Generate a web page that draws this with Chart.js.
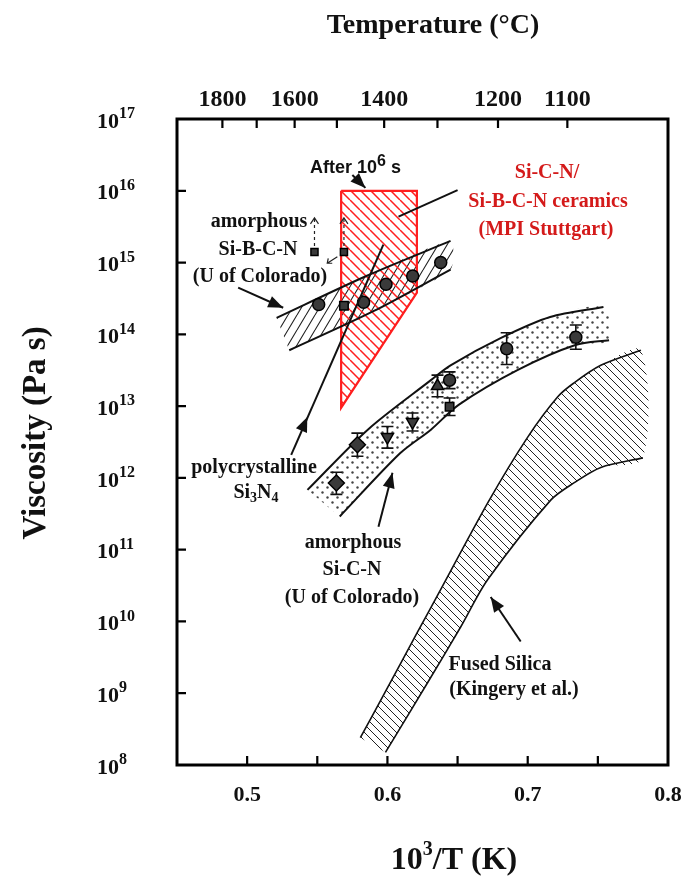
<!DOCTYPE html>
<html>
<head>
<meta charset="utf-8">
<script src="https://cdn.jsdelivr.net/npm/chart.js@4.4.0/dist/chart.umd.min.js"></script>
<style>
  html, body { margin:0; padding:0; background:#fff; }
</style>
</head>
<body>
<canvas id="c" width="685" height="880"></canvas>
<script>
// ---- values: x = 1000/T (1/K), y = viscosity (Pa s) ----
const xTicks = [0.5, 0.55, 0.6, 0.65, 0.7, 0.75, 0.8];
const xLabels = [0.5, 0.6, 0.7, 0.8];
const tempTicks = [1800, 1700, 1600, 1500, 1400, 1300, 1200, 1100];
const tempLabels = [1800, 1600, 1400, 1200, 1100];
const yExps = [8, 9, 10, 11, 12, 13, 14, 15, 16, 17];

// Si-C-N / Si-B-C-N ceramics (MPI Stuttgart) region, closed
const mpiX = [0.567, 0.621, 0.621, 0.567, 0.567];
const mpiY = [1.0e16, 1.0e16, 3.8e14, 9.5e12, 1.0e16];

// amorphous Si-B-C-N band
const bcnUpX = [0.521, 0.585, 0.645];
const bcnUpY = [1.7e14, 6.5e14, 2.0e15];
const bcnLoX = [0.530, 0.590, 0.645];
const bcnLoY = [6.0e13, 2.1e14, 8.0e14];
const bcnPtX = [0.551, 0.583, 0.599, 0.618, 0.638];
const bcnPtY = [2.6e14, 2.8e14, 5.0e14, 6.5e14, 1.0e15];
const bcnSqX = [0.569];
const bcnSqY = [2.5e14];
// after 1e6 s (lower bounds, arrows up)
const agedX = [0.548, 0.569];
const agedY = [1.4e15, 1.4e15];
const agedTop = [4.2e15, 4.2e15];

// amorphous Si-C-N band
const sicnUpX = [0.543, 0.586, 0.631, 0.645, 0.681, 0.716, 0.754];
const sicnUpY = [6.8e11, 4.7e12, 2.3e13, 3.7e13, 8.9e13, 1.74e14, 2.4e14];
const sicnLoX = [0.566, 0.609, 0.631, 0.651, 0.693, 0.734, 0.758];
const sicnLoY = [2.9e11, 2.2e12, 4.7e12, 1.05e13, 3.2e13, 7.1e13, 8.3e13];

const diaX = [0.5636, 0.5786];
const diaY = [8.5e11, 2.9e12];
const diaLo = [5.9e11, 2.0e12];
const diaHi = [1.2e12, 4.2e12];
const dtriX = [0.600, 0.6179];
const dtriY = [3.7e12, 6.0e12];
const dtriLo = [2.6e12, 4.5e12];
const dtriHi = [5.2e12, 8.0e12];
const triX = [0.6357];
const triY = [1.9e13];
const triLo = [1.35e13];
const triHi = [2.7e13];
const cirX = [0.6443, 0.685, 0.7343];
const cirY = [2.3e13, 6.3e13, 9.1e13];
const cirLo = [1.75e13, 3.8e13, 6.2e13];
const cirHi = [3.0e13, 1.05e14, 1.35e14];
const sqX = [0.6443];
const sqY = [9.8e12];
const sqLo = [7.4e12];
const sqHi = [1.3e13];

// fused silica (Kingery et al.)
const fsUpX = [0.5807, 0.5971, 0.6214, 0.6357, 0.6721, 0.700, 0.7214, 0.7329, 0.7521, 0.7807];
const fsUpY = [2.4e8, 9.3e8, 7.1e9, 2.3e10, 4.7e11, 3.7e12, 1.35e13, 2.1e13, 3.7e13, 6.0e13];
const fsLoX = [0.5986, 0.6286, 0.6521, 0.6714, 0.7164, 0.7329, 0.7521, 0.7821];
const fsLoY = [1.5e8, 1.4e9, 8.3e9, 3.8e10, 4.9e11, 8.5e11, 1.4e12, 1.9e12];

// ---- styling ----
const SERIF = "'Liberation Serif', 'Times New Roman', serif";
const SANS = "'Liberation Sans', Arial, sans-serif";
const RED = '#ff1e1e';
const RED_TEXT = '#d41a1a';

function hatch(color, w, h, lw, dir){
  const c = document.createElement('canvas'); c.width = w; c.height = h;
  const g = c.getContext('2d');
  g.strokeStyle = color; g.lineWidth = lw; g.beginPath();
  for(let k=-1;k<=1;k++){
    if(dir === '\\'){ g.moveTo(k*w, 0); g.lineTo(k*w + w, h); }
    else { g.moveTo(k*w, h); g.lineTo(k*w + w, 0); }
  }
  g.stroke();
  return g.createPattern(c, 'repeat');
}
function dots(color, s){
  const c = document.createElement('canvas'); c.width = s; c.height = s;
  const g = c.getContext('2d'); g.fillStyle = color;
  [[s*0.25, s*0.25], [s*0.75, s*0.75]].forEach(([x,y]) => { g.beginPath(); g.arc(x, y, 1.2, 0, Math.PI*2); g.fill(); });
  return g.createPattern(c, 'repeat');
}

const pts = (xs, ys) => xs.map((x,i) => ({x, y: ys[i]}));
const band = (ux, uy, lx, ly) => pts(ux, uy).concat(pts(lx, ly).reverse());

function boundary(label, xs, ys, width){
  return { label, data: pts(xs, ys), showLine:true, borderColor:'#111', borderWidth: width || 2,
           pointRadius:0, tension:0.3, fill:false, order:10 };
}
function marker(label, xs, ys, style, extra){
  return Object.assign({ label, data: pts(xs, ys), showLine:false, pointStyle: style, pointRadius:6,
           backgroundColor:'#3a3a3a', borderColor:'#000', borderWidth:1.5, order:1 }, extra || {});
}

const errorSets = [
  [diaX, diaLo, diaHi], [dtriX, dtriLo, dtriHi], [triX, triLo, triHi], [cirX, cirLo, cirHi], [sqX, sqLo, sqHi]
];

// annotation arrows, in axis units: [1000/T, log10 viscosity]
const arrowNotes = [
  { from:[0.4936, 14.65], to:[0.5257, 14.37], head:true },
  { from:[0.5314, 12.32], to:[0.5971, 15.25], headAt:[0.5429, 12.85] },
  { from:[0.5936, 11.32], to:[0.6036, 12.07], head:true },
  { from:[0.6950, 9.72], to:[0.6736, 10.34], head:true },
  { from:[0.5750, 16.22], to:[0.5843, 16.04], head:true },
  { from:[0.6079, 15.64], to:[0.6500, 16.01] }
];

const notes = [
  { x:259, y:222, c:'#111', parts:[{t:'amorphous'}] },
  { x:258, y:250, c:'#111', parts:[{t:'Si-B-C-N'}] },
  { x:260, y:277, c:'#111', parts:[{t:'(U of Colorado)'}] },
  { x:254, y:468, c:'#111', parts:[{t:'polycrystalline'}] },
  { x:256, y:493, c:'#111', parts:[{t:'Si'},{t:'3',s:'sub'},{t:'N'},{t:'4',s:'sub'}] },
  { x:353, y:543, c:'#111', parts:[{t:'amorphous'}] },
  { x:352, y:570, c:'#111', parts:[{t:'Si-C-N'}] },
  { x:352, y:598, c:'#111', parts:[{t:'(U of Colorado)'}] },
  { x:500, y:665, c:'#111', parts:[{t:'Fused Silica'}] },
  { x:514, y:690, c:'#111', parts:[{t:'(Kingery et al.)'}] },
  { x:547, y:173, c:RED_TEXT, parts:[{t:'Si-C-N/'}] },
  { x:548, y:202, c:RED_TEXT, parts:[{t:'Si-B-C-N ceramics'}] },
  { x:546, y:230, c:RED_TEXT, parts:[{t:'(MPI Stuttgart)'}] }
];

function drawRich(ctx, parts, x, y, size, color, align, family, weight){
  family = family || SERIF; weight = weight || 'bold';
  ctx.save();
  ctx.fillStyle = color; ctx.textBaseline = 'middle'; ctx.textAlign = 'left';
  const fonts = parts.map(p => `${weight} ${p.s ? Math.round(size*(p.z || 0.68)) : size}px ${family}`);
  let w = 0;
  parts.forEach((p,i) => { ctx.font = fonts[i]; w += ctx.measureText(p.t).width; });
  let cx = align === 'left' ? x : align === 'right' ? x - w : x - w/2;
  parts.forEach((p,i) => {
    ctx.font = fonts[i];
    const dy = p.s === 'sup' ? -size*0.36 : p.s === 'sub' ? size*0.28 : 0;
    ctx.fillText(p.t, cx, y + dy);
    cx += ctx.measureText(p.t).width;
  });
  ctx.restore();
}

function head(ctx, x1, y1, x2, y2, len, half){
  const a = Math.atan2(y2-y1, x2-x1);
  ctx.beginPath();
  ctx.moveTo(x2, y2);
  ctx.lineTo(x2 - len*Math.cos(a) + half*Math.sin(a), y2 - len*Math.sin(a) - half*Math.cos(a));
  ctx.lineTo(x2 - len*Math.cos(a) - half*Math.sin(a), y2 - len*Math.sin(a) + half*Math.cos(a));
  ctx.closePath(); ctx.fill();
}

const decor = {
  id:'decor',
  beforeDatasetDraw(chart, args){
    // error bars drawn right before the Si-C-N markers
    if(chart.data.datasets[args.index].label !== 'Si-C-N diamonds') return;
    const {ctx, scales:{x, y}} = chart;
    ctx.save(); ctx.strokeStyle = '#111'; ctx.lineWidth = 1.6;
    errorSets.forEach(([xs, lo, hi]) => xs.forEach((v,i) => {
      const px = x.getPixelForValue(v), p1 = y.getPixelForValue(lo[i]), p2 = y.getPixelForValue(hi[i]);
      ctx.beginPath();
      ctx.moveTo(px, p1); ctx.lineTo(px, p2);
      ctx.moveTo(px-6, p1); ctx.lineTo(px+6, p1);
      ctx.moveTo(px-6, p2); ctx.lineTo(px+6, p2);
      ctx.stroke();
    }));
    ctx.restore();
  },
  afterDatasetsDraw(chart){
    const {ctx, chartArea:a, scales:{x, x2, y}} = chart;
    const P = (v, e) => [x.getPixelForValue(v), y.getPixelForValue(Math.pow(10, e))];
    ctx.save();
    // dashed "lower bound" arrows after 1e6 s
    ctx.strokeStyle = '#222'; ctx.lineWidth = 1.2;
    agedX.forEach((v,i) => {
      const px = x.getPixelForValue(v), p1 = y.getPixelForValue(agedY[i]) - 6, p2 = y.getPixelForValue(agedTop[i]);
      ctx.setLineDash([3,3]); ctx.beginPath(); ctx.moveTo(px, p1); ctx.lineTo(px, p2); ctx.stroke();
      ctx.setLineDash([]); ctx.beginPath();
      ctx.moveTo(px-4, p2+6); ctx.lineTo(px, p2); ctx.lineTo(px+4, p2+6); ctx.stroke();
    });
    // little pointer between the aged squares
    const [s1x, s1y] = P(0.5643, 15.08), [s2x, s2y] = P(0.5571, 14.99);
    ctx.beginPath(); ctx.moveTo(s1x, s1y); ctx.lineTo(s2x, s2y);
    ctx.moveTo(s2x+5, s2y); ctx.lineTo(s2x, s2y); ctx.lineTo(s2x+1, s2y-5); ctx.stroke();

    // annotation arrows
    ctx.strokeStyle = '#111'; ctx.fillStyle = '#111'; ctx.lineWidth = 2;
    arrowNotes.forEach(n => {
      const [x1, y1] = P(...n.from), [x2, y2] = P(...n.to);
      ctx.beginPath(); ctx.moveTo(x1, y1); ctx.lineTo(x2, y2); ctx.stroke();
      if(n.head) head(ctx, x1, y1, x2, y2, 15, 6);
      if(n.headAt){ const [hx, hy] = P(...n.headAt); head(ctx, x1, y1, hx, hy, 15, 6); }
    });

    // frame and inward ticks
    ctx.strokeStyle = '#000'; ctx.lineWidth = 3;
    ctx.strokeRect(a.left, a.top, a.right - a.left, a.bottom - a.top);
    ctx.lineWidth = 2.2; ctx.beginPath();
    x.ticks.forEach(t => { const px = x.getPixelForValue(t.value); if(px < a.right-2){ ctx.moveTo(px, a.bottom); ctx.lineTo(px, a.bottom-9); } });
    x2.ticks.forEach(t => { const px = x2.getPixelForValue(t.value); ctx.moveTo(px, a.top); ctx.lineTo(px, a.top+9); });
    y.ticks.forEach(t => { const py = y.getPixelForValue(t.value); if(py > a.top+2 && py < a.bottom-2){ ctx.moveTo(a.left, py); ctx.lineTo(a.left+9, py); } });
    ctx.stroke();
    ctx.restore();
  },
  afterDraw(chart){
    const {ctx, scales:{y}} = chart;
    // y tick labels with superscript exponents
    yExps.forEach(e => drawRich(ctx, [{t:'10'}, {t:String(e), s:'sup', z:0.74}], 97, y.getPixelForValue(Math.pow(10, e)) + 3, 22, '#111', 'left'));
    // axis titles
    drawRich(ctx, [{t:'Temperature (°C)'}], 433, 26, 28, '#111', 'center');
    drawRich(ctx, [{t:'10'}, {t:'3', s:'sup', z:0.62}, {t:'/T (K)'}], 454, 861, 32, '#111', 'center');
    ctx.save(); ctx.translate(36, 433); ctx.rotate(-Math.PI/2);
    drawRich(ctx, [{t:'Viscosity (Pa s)'}], 0, 0, 33, '#111', 'center');
    ctx.restore();
    // annotations
    notes.forEach(n => drawRich(ctx, n.parts, n.x, n.y, 20, n.c, 'center'));
    drawRich(ctx, [{t:'After 10'}, {t:'6', s:'sup', z:0.9}, {t:' s'}], 310, 168, 18, '#111', 'left', SANS, 'bold');
  }
};

const redHatch = hatch(RED, 10, 10, 1.5, '\\');
const bcnHatch = hatch('#222', 9, 15, 1.1, '/');
const fsHatch = hatch('#222', 8, 8, 1.0, '\\');
const sicnDots = dots('#444', 10);

// keep the plot box where the figure has it
const fitX = h => s => { s.height = h; s.paddingLeft = 0; s.paddingRight = 0; };

new Chart(document.getElementById('c'), {
  type:'scatter',
  data:{ datasets:[
    { label:'Fused silica fill', data: band(fsUpX, fsUpY, fsLoX, fsLoY), showLine:true, fill:'shape',
      backgroundColor: fsHatch, borderWidth:0, pointRadius:0, tension:0.3, order:30 },
    { label:'Si-C-N fill', data: band(sicnUpX, sicnUpY, sicnLoX, sicnLoY), showLine:true, fill:'shape',
      backgroundColor: sicnDots, borderWidth:0, pointRadius:0, tension:0.3, order:30 },
    { label:'Si-B-C-N fill', data: band(bcnUpX, bcnUpY, bcnLoX, bcnLoY), showLine:true, fill:'shape',
      backgroundColor: bcnHatch, borderWidth:0, pointRadius:0, tension:0.2, order:30 },
    { label:'MPI Stuttgart', data: pts(mpiX, mpiY), showLine:true, fill:'shape', backgroundColor: redHatch,
      borderColor: RED, borderWidth:2.2, borderJoinStyle:'miter', pointRadius:0, tension:0, order:20 },
    boundary('Fused silica upper', fsUpX, fsUpY, 1.6),
    boundary('Fused silica lower', fsLoX, fsLoY, 1.6),
    boundary('Si-C-N upper', sicnUpX, sicnUpY),
    boundary('Si-C-N lower', sicnLoX, sicnLoY),
    boundary('Si-B-C-N upper', bcnUpX, bcnUpY),
    boundary('Si-B-C-N lower', bcnLoX, bcnLoY),
    marker('Si-B-C-N circles', bcnPtX, bcnPtY, 'circle'),
    marker('Si-B-C-N square', bcnSqX, bcnSqY, 'rect'),
    marker('After 1e6 s', agedX, agedY, 'rect', { pointRadius:5 }),
    marker('Si-C-N circles', cirX, cirY, 'circle'),
    marker('Si-C-N square', sqX, sqY, 'rect'),
    marker('Si-C-N triangle', triX, triY, 'triangle', { pointRadius:7 }),
    marker('Si-C-N down triangles', dtriX, dtriY, 'triangle', { pointRadius:7, rotation:180 }),
    marker('Si-C-N diamonds', diaX, diaY, 'rectRot', { pointRadius:8, order:2 })
  ]},
  options:{
    responsive:false, devicePixelRatio:1, animation:false,
    layout:{ padding:{ left:0, right:17, top:0, bottom:0 } },
    plugins:{ legend:{ display:false }, tooltip:{ enabled:false } },
    scales:{
      x:{ type:'linear', position:'bottom', min:0.45, max:0.8,
        afterBuildTicks: s => { s.ticks = xTicks.map(v => ({ value:v })); },
        afterFit: fitX(115),
        grid:{ display:false, drawTicks:false }, border:{ display:false },
        ticks:{ autoSkip:false, maxRotation:0, padding:17, color:'#111',
          font:{ family:SERIF, size:22, weight:'bold' },
          callback: v => xLabels.includes(v) ? v.toFixed(1) : '' } },
      x2:{ type:'linear', position:'top', min:0.45, max:0.8,
        afterBuildTicks: s => { s.ticks = tempTicks.map(t => ({ value: 1000/(t + 273.15) })); },
        afterFit: fitX(119),
        grid:{ display:false, drawTicks:false }, border:{ display:false },
        ticks:{ autoSkip:false, maxRotation:0, padding:5, color:'#111',
          font:{ family:SERIF, size:24, weight:'bold' },
          callback: (v, i) => tempLabels.includes(tempTicks[i]) ? String(tempTicks[i]) : '' } },
      y:{ type:'logarithmic', min:1e8, max:1e17,
        afterBuildTicks: s => { s.ticks = yExps.map(e => ({ value: Math.pow(10, e) })); },
        afterFit: s => { s.width = 177; s.paddingTop = 0; s.paddingBottom = 0; },
        grid:{ display:false, drawTicks:false }, border:{ display:false },
        ticks:{ display:false } }
    }
  },
  plugins:[decor]
});
</script>
</body>
</html>
